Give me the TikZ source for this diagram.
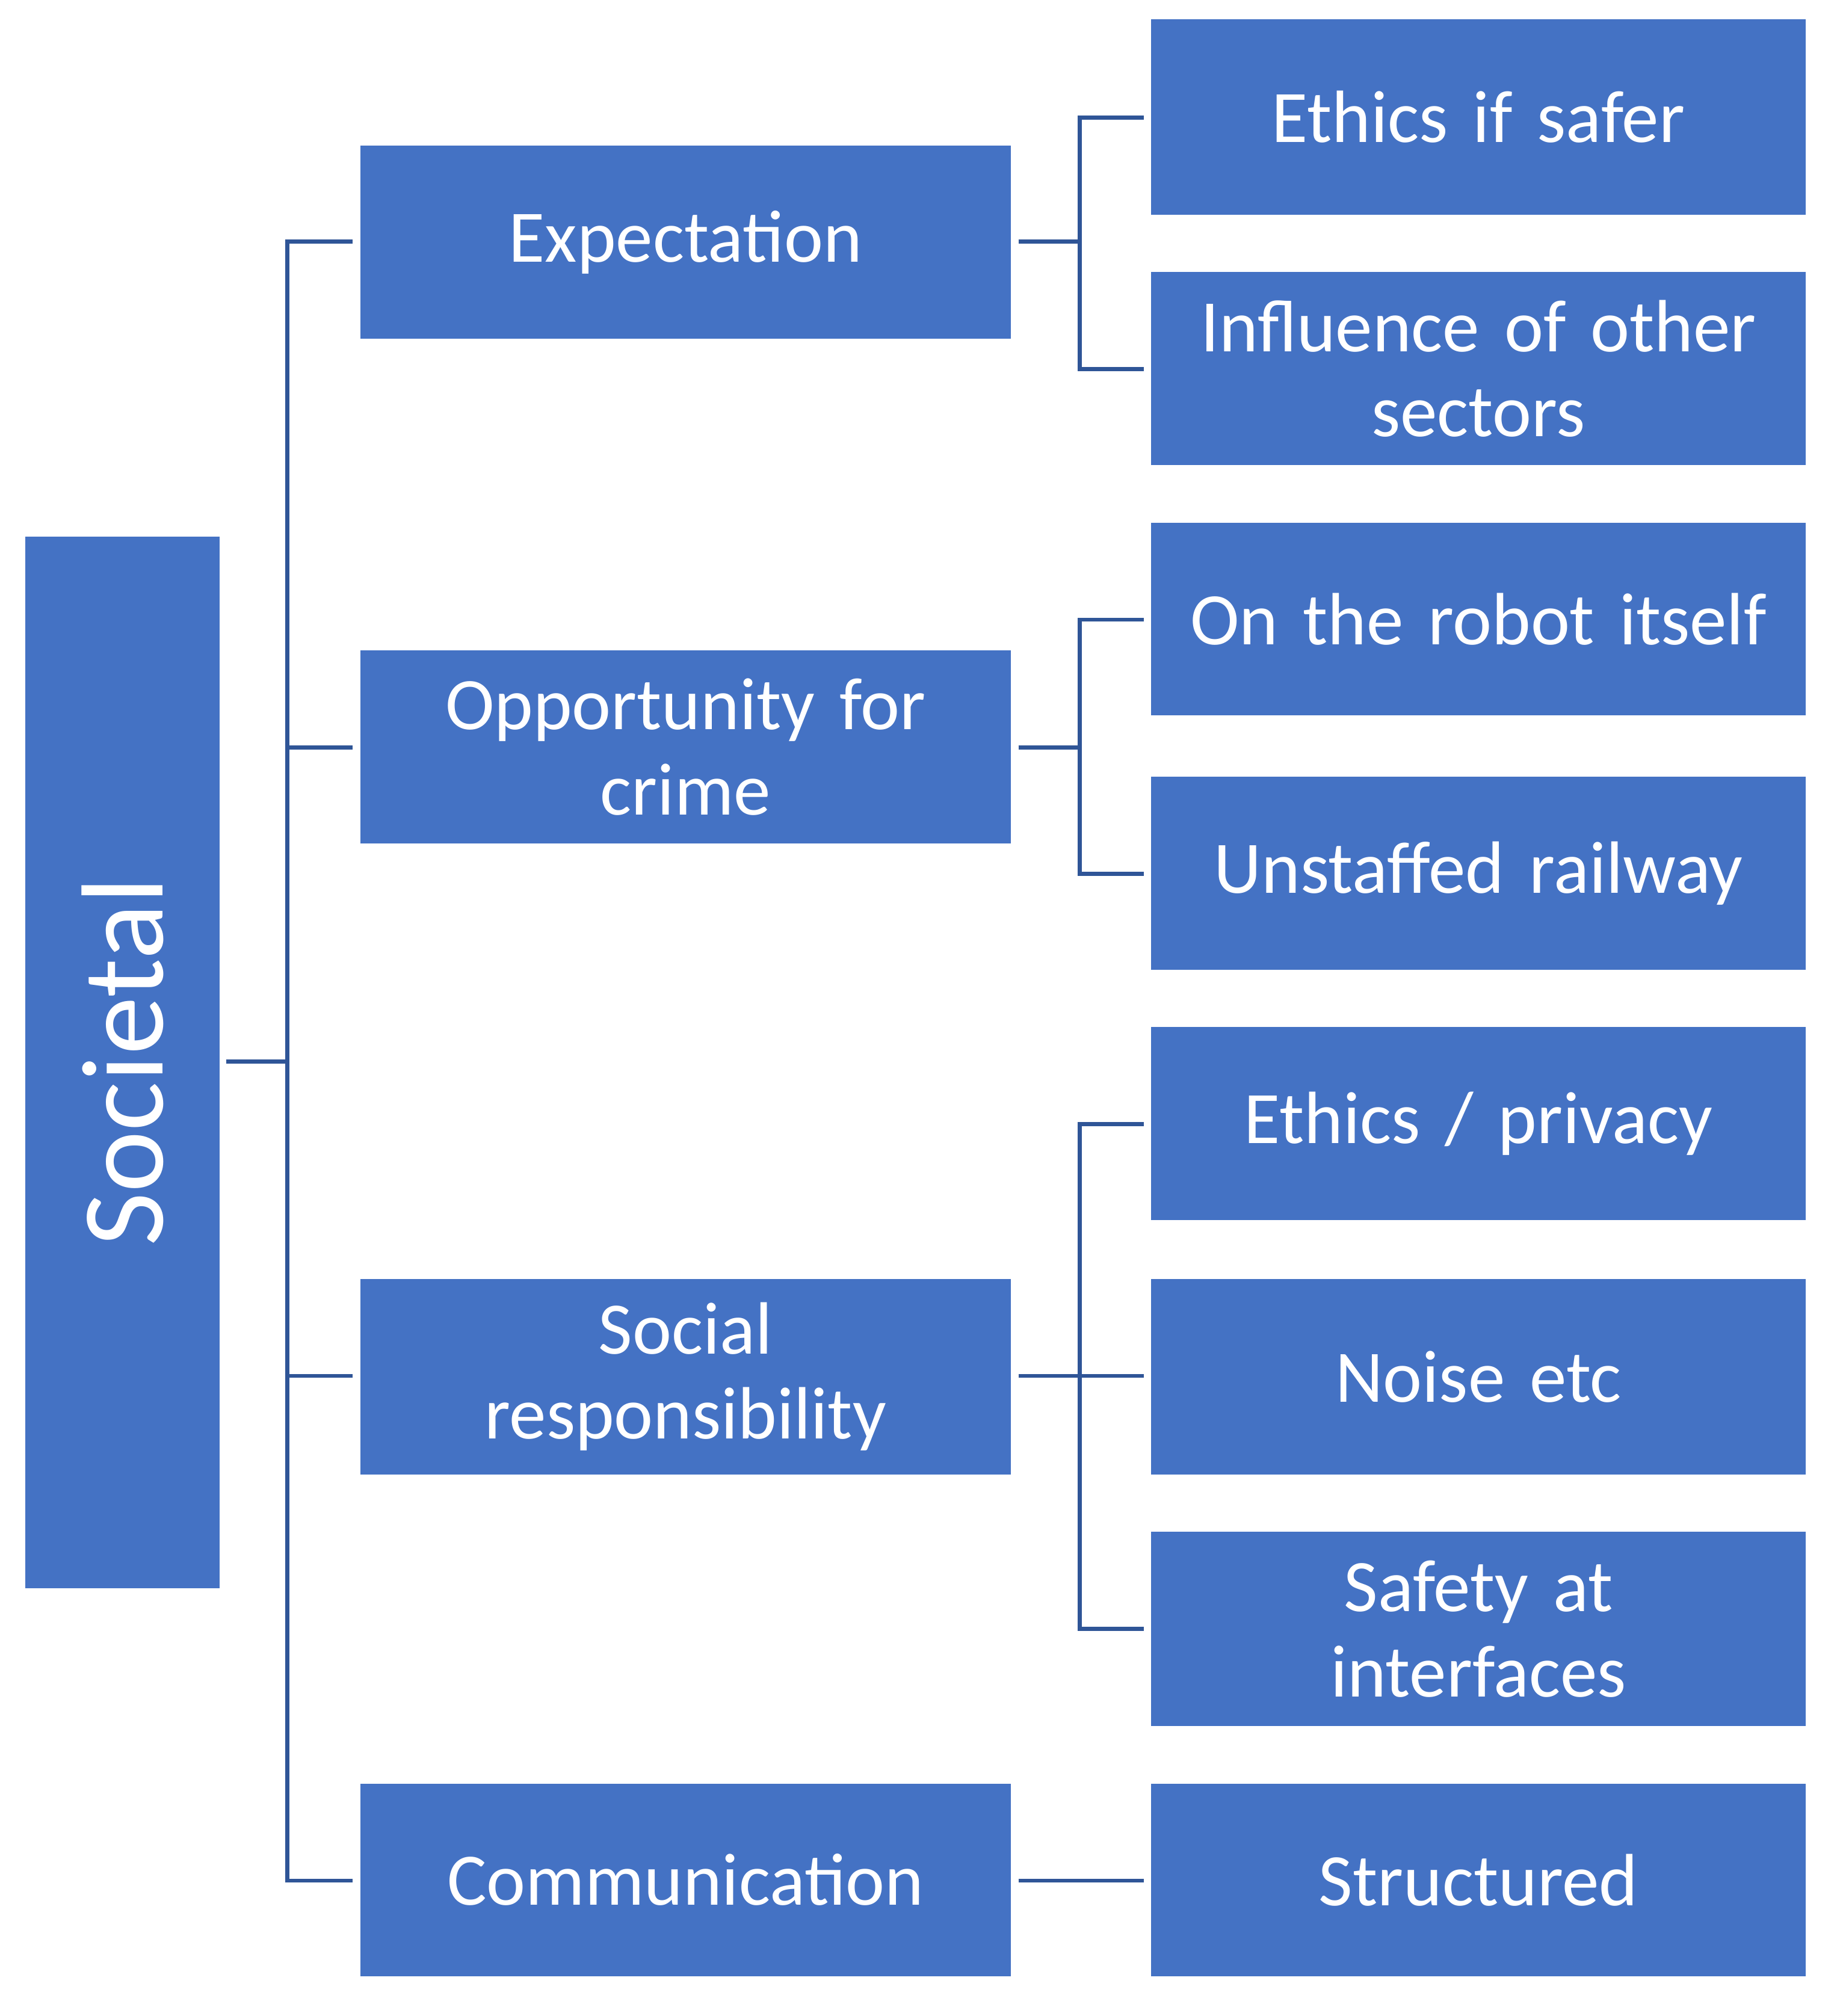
\documentclass[tikz,border=0pt]{standalone}
\usepackage{fontspec}
\setmainfont{Carlito}
\definecolor{boxc}{HTML}{4472C4}
\definecolor{linec}{HTML}{2F5597}
\begin{document}
\begin{tikzpicture}[x=0.02cm,y=-0.02cm,
  bx/.style={fill=boxc,draw=none,text=white,align=center,inner sep=0pt,font=\fontsize{33}{38}\selectfont},
  ln/.style={draw=linec,line width=1.8pt}]
\useasboundingbox (0,0) rectangle (1440,1578);
\newcommand{\bxat}[6]{\fill[boxc] (#1,#2) rectangle (#3,#4); \node[bx,text width=(#3-#1)*0.02cm] (#5) at ({(#1+#3)/2},{(#2+#4)/2}) {#6};}
% root
\fill[boxc] (20,420) rectangle (172,1243);
\node[bx,font=\fontsize{52}{60}\selectfont,rotate=90] (root) at (96,831) {Societal};
\coordinate (rootE) at (172,831);
% middle
\bxat{282}{114}{791}{265}{m1}{Expectation}
\bxat{282}{509}{791}{660}{m2}{Opportunity for\\crime}
\bxat{282}{1001}{791}{1154}{m3}{Social\\responsibility}
\bxat{282}{1396}{791}{1547}{m4}{Communication}
% right
\bxat{901}{15}{1413}{168}{r1}{Ethics if safer}
\bxat{901}{213}{1413}{364}{r2}{Influence of other\\sectors}
\bxat{901}{409}{1413}{560}{r3}{On the robot itself}
\bxat{901}{608}{1413}{759}{r4}{Unstaffed railway}
\bxat{901}{804}{1413}{955}{r5}{Ethics / privacy}
\bxat{901}{1001}{1413}{1154}{r6}{Noise etc}
\bxat{901}{1199}{1413}{1351}{r7}{Safety at\\interfaces}
\bxat{901}{1396}{1413}{1547}{r8}{Structured}
% connectors
\draw[ln] (177,831) -- (225,831);
\draw[ln] (276,189) -- (225,189) -- (225,1472) -- (276,1472);
\draw[ln] (225,585) -- (276,585);
\draw[ln] (225,1077) -- (276,1077);
\draw[ln] (797,189) -- (845,189);
\draw[ln] (895,92) -- (845,92) -- (845,289) -- (895,289);
\draw[ln] (797,585) -- (845,585);
\draw[ln] (895,485) -- (845,485) -- (845,684) -- (895,684);
\draw[ln] (797,1077) -- (895,1077);
\draw[ln] (895,880) -- (845,880) -- (845,1275) -- (895,1275);
\draw[ln] (797,1472) -- (895,1472);
\end{tikzpicture}
\end{document}
